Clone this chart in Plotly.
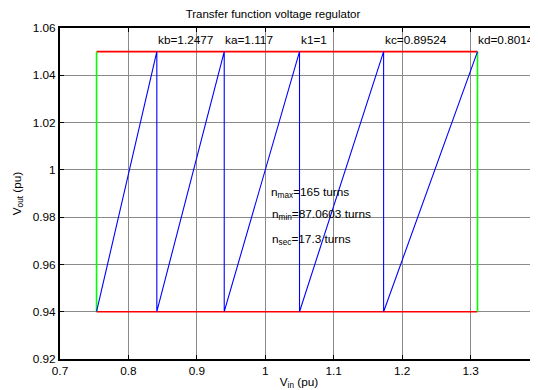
import plotly.graph_objects as go

# Data
saw_vin = [0.7534, 0.8415, 0.8415, 0.9400, 0.9400, 1.0500, 1.0500, 1.1729, 1.1729, 1.3101]
saw_vout = [0.94, 1.05, 0.94, 1.05, 0.94, 1.05, 0.94, 1.05, 0.94, 1.05]
vmin_band = 0.94
vmax_band = 1.05
vin_low = 0.7534
vin_high = 1.3101
k_labels = ["kb=1.2477", "ka=1.117", "k1=1", "kc=0.89524", "kd=0.80145"]
k_label_x = [0.8415, 0.9400, 1.0500, 1.1729, 1.3101]
k_label_y = 1.055
n_texts = ["n<sub>max</sub>=165 turns", "n<sub>min</sub>=87.0603 turns", "n<sub>sec</sub>=17.3 turns"]
n_text_x = [1.006, 1.007, 1.007]
n_text_y = [0.9905, 0.981, 0.9705]
x_ticks = [0.7, 0.8, 0.9, 1.0, 1.1, 1.2, 1.3]
x_tick_text = ["0.7", "0.8", "0.9", "1", "1.1", "1.2", "1.3"]
x_edge_tick = 1.4
y_ticks = [0.92, 0.94, 0.96, 0.98, 1.0, 1.02, 1.04, 1.06]
y_tick_text = ["0.92", "0.94", "0.96", "0.98", "1", "1.02", "1.04", "1.06"]

FONT = "Liberation Sans, Arial, sans-serif"
FS = 11.8
# the page body has an 8px margin, so the figure is sized to fit the window
W, H = 530, 382
X0, X1 = 0.7, 0.7 + 478 / 684.3

fig = go.Figure()
# red band limits
fig.add_trace(go.Scatter(x=[vin_low, vin_high], y=[vmax_band, vmax_band], mode="lines",
                         line=dict(color="red", width=1.6), showlegend=False, hoverinfo="skip"))
fig.add_trace(go.Scatter(x=[vin_low, vin_high], y=[vmin_band, vmin_band], mode="lines",
                         line=dict(color="red", width=1.6), showlegend=False, hoverinfo="skip"))
# green verticals
fig.add_trace(go.Scatter(x=[vin_low, vin_low], y=[vmin_band, vmax_band], mode="lines",
                         line=dict(color="#00ff00", width=1.6), showlegend=False, hoverinfo="skip"))
fig.add_trace(go.Scatter(x=[vin_high, vin_high], y=[vmin_band, vmax_band], mode="lines",
                         line=dict(color="#00ff00", width=1.6), showlegend=False, hoverinfo="skip"))
# blue sawtooth
fig.add_trace(go.Scatter(x=saw_vin, y=saw_vout, mode="lines",
                         line=dict(color="blue", width=1.1), showlegend=False, hoverinfo="skip"))

for t, x in zip(k_labels, k_label_x):
    fig.add_annotation(x=x, y=k_label_y, text=t, showarrow=False, xanchor="left",
                       yanchor="middle", xshift=-1, font=dict(size=FS, color="black", family=FONT))
for t, x, y in zip(n_texts, n_text_x, n_text_y):
    fig.add_annotation(x=x, y=y, text=t, showarrow=False, xanchor="left",
                       yanchor="middle", font=dict(size=FS, color="black", family=FONT))

# right-edge tick label that is cut by the figure edge
fig.add_annotation(x=(x_edge_tick - X0) / (X1 - X0), xref="paper", y=0, yref="paper",
                   text="1.4", showarrow=False, xanchor="center", yanchor="top", yshift=-2,
                   font=dict(size=FS, color="black", family=FONT))

fig.update_layout(
    width=W, height=H,
    margin=dict(l=52, r=0, t=20, b=31, autoexpand=False),
    plot_bgcolor="white", paper_bgcolor="white",
    font=dict(family=FONT, size=FS, color="black"),
    title=dict(text="Transfer function voltage regulator", x=0.5, xanchor="center",
               y=1 - 6 / H, yanchor="middle", font=dict(size=11.5, family=FONT, color="black")),
    xaxis=dict(range=[X0, X1], tickvals=x_ticks, ticktext=x_tick_text,
               ticks="inside", ticklen=4, tickcolor="black", showline=True, linecolor="black",
               linewidth=2, mirror="ticks", showgrid=True, gridcolor="#8a8a8a", gridwidth=1,
               zeroline=False, tickfont=dict(size=FS, family=FONT), automargin=False,
               title=dict(text="V<sub>in</sub> (pu)", standoff=5, font=dict(size=FS, family=FONT))),
    yaxis=dict(range=[0.92, 1.06], tickvals=y_ticks, ticktext=y_tick_text,
               ticks="inside", ticklen=4, tickcolor="black", showline=True, linecolor="black",
               linewidth=2, mirror=False, showgrid=True, gridcolor="#8a8a8a", gridwidth=1,
               zeroline=False, tickfont=dict(size=FS, family=FONT), automargin=False,
               title=dict(text="V<sub>out</sub> (pu)", standoff=9, font=dict(size=FS, family=FONT))),
)

fig.write_html("out.html")
